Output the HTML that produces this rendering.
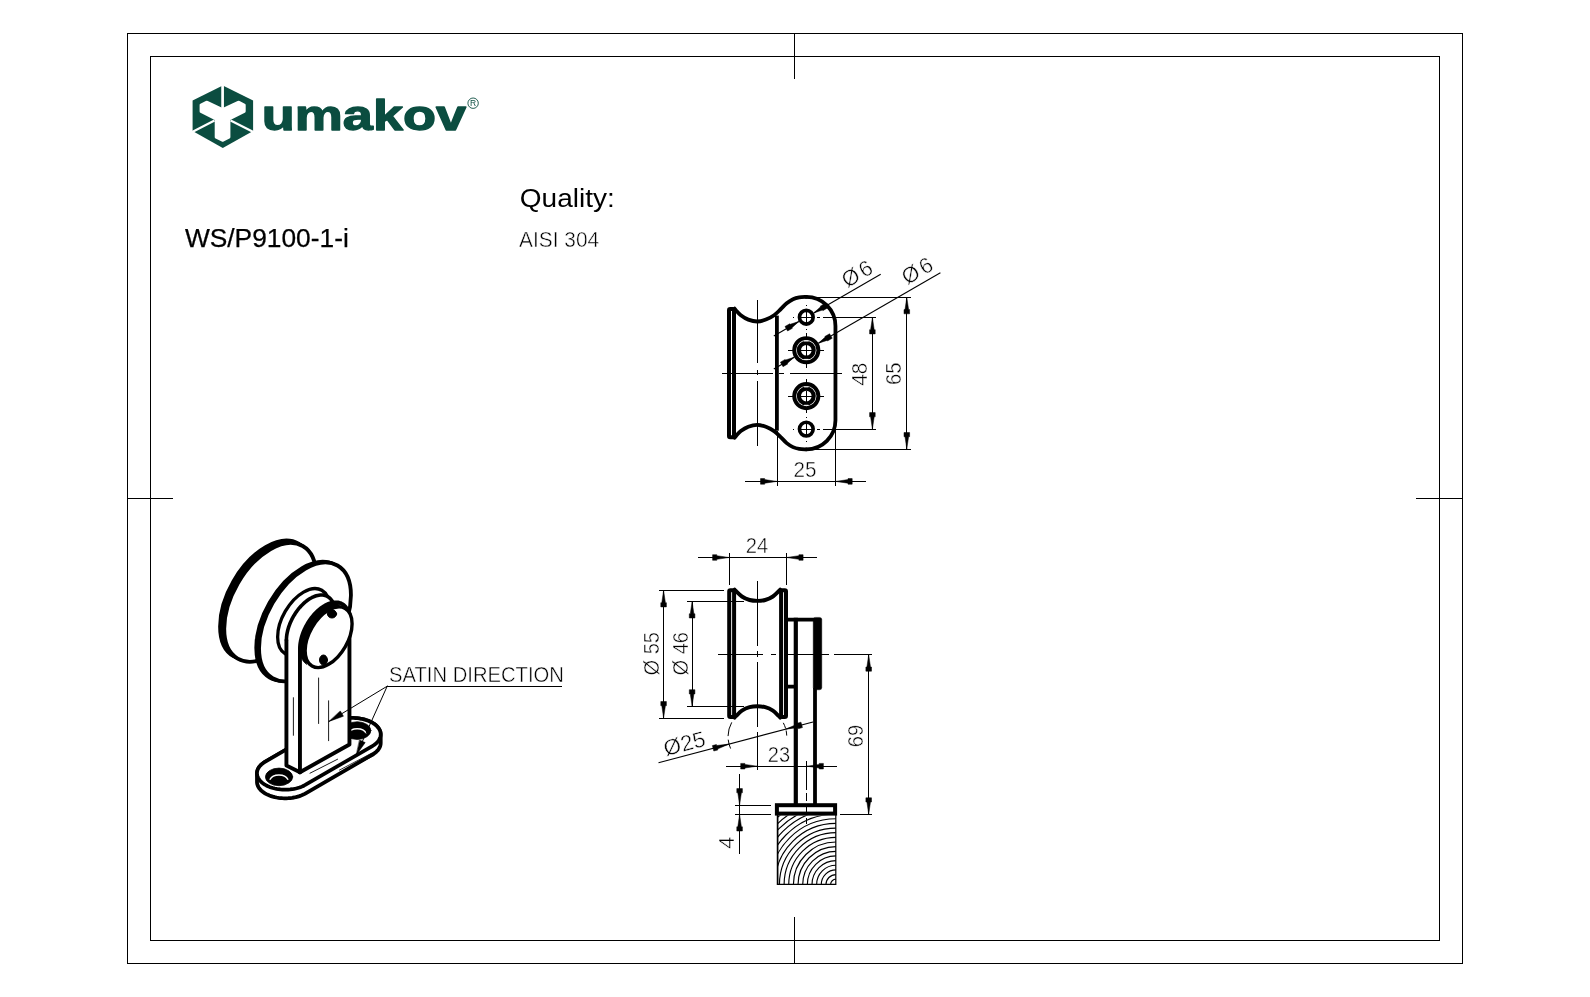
<!DOCTYPE html>
<html lang="en">
<head>
<meta charset="utf-8">
<title>umakov WS/P9100-1-i</title>
<style>
html,body{margin:0;padding:0;background:#fff;}
body{width:1590px;height:997px;overflow:hidden;}
svg{display:block;will-change:transform;}
svg line,svg path,svg circle,svg ellipse,svg rect,svg polyline{fill:none;stroke:#000;}
text{font-family:"Liberation Sans",Arial,Helvetica,sans-serif;fill:#000;stroke:none;}
text.t{stroke:#fff;stroke-width:.46px;}
text.m{stroke:#fff;stroke-width:.25px;}
text.b{stroke:none;}
text.h{stroke:#000;stroke-width:.25px;}
.ar{fill:#000;stroke:#000;stroke-width:.5;stroke-linejoin:miter;}
.k{stroke-linecap:round;stroke-linejoin:round;}
svg .wf{fill:#fff;}
svg .bf{fill:#000;}
svg .g{fill:#0b4d40;stroke:none;}
svg .w{stroke:#fff;}
</style>
</head>
<body>
<svg width="1590" height="997" viewBox="0 0 1590 997">
<g id="frame">
<rect x="127.5" y="33.5" width="1335" height="930" stroke-width="1.2" shape-rendering="crispEdges"/>
<rect x="150.5" y="56.5" width="1289" height="884" stroke-width="1.2" shape-rendering="crispEdges"/>
<path d="M794.5,33.5V78.8M794.5,916.9V963.5" stroke-width="1.2" shape-rendering="crispEdges"/>
<path d="M127.5,498.5H172.9M1416,498.5H1462.5" stroke-width="1.2" shape-rendering="crispEdges"/>
</g>
<g id="logo">
<polygon class="g" points="222.8,85.6 253.1,100.4 253.1,131 222.8,148.1 192.6,131 192.6,100.4" stroke-linejoin="round"/>
<path d="M199.6,105.2 Q199.4,104.3 200.4,103.8 L205.8,100.9 Q206.8,100.4 207.8,100.9 L222.6,108.1 L237.6,100.9 Q238.6,100.4 239.6,100.9 L244.8,103.8 Q245.8,104.3 245.7,105.2 L245.7,111.2 Q245.7,112.2 244.8,112.7 L230.4,119.9 L230.4,136.9 Q230.4,137.9 229.5,138.4 L223.6,141.5 Q222.7,142 221.8,141.5 L215.6,138.4 Q214.7,137.9 214.7,136.9 L214.7,119.9 L200.4,112.7 Q199.5,112.2 199.6,111.2 Z" style="fill:#fff;stroke:none"/>
<path d="M222.6,84 V110" stroke-width="2.7" style="stroke:#fff"/>
<path d="M214.5,120.5 L192.2,131.9 M230.6,120.5 L253.4,131.9" stroke-width="2.2" style="stroke:#fff"/>
<text x="0" y="0" font-size="43" font-weight="bold" transform="translate(261.8 130.3) scale(1.257 0.985)" style="fill:#0b4d40;stroke:#0b4d40;stroke-width:1.3px;stroke-linejoin:round">umakov</text>
<circle cx="473.1" cy="103.2" r="5.2" style="stroke:#0b4d40" stroke-width=".9"/>
<text x="473.1" y="106.3" font-size="8.5" text-anchor="middle" style="fill:#0b4d40">R</text>
</g>
<g id="hdr">
<text class="h" x="184.9" y="246.7" font-size="25.4" text-anchor="start" textLength="163.9" lengthAdjust="spacingAndGlyphs">WS/P9100-1-i</text>
<text class="b" x="519.8" y="206.8" font-size="26" text-anchor="start" textLength="95" lengthAdjust="spacingAndGlyphs">Quality:</text>
<text class="t" x="519.1" y="246.9" font-size="22" text-anchor="start" textLength="80" lengthAdjust="spacingAndGlyphs">AISI 304</text>
</g>
<g id="topview">
<text class="t" x="866.6" y="374.2" font-size="22" text-anchor="middle" transform="rotate(-90 866.6 374.2)" textLength="23" lengthAdjust="spacingAndGlyphs">48</text>
<text class="t" x="901.3" y="373.7" font-size="22" text-anchor="middle" transform="rotate(-90 901.3 373.7)" textLength="22.5" lengthAdjust="spacingAndGlyphs">65</text>
<text class="t" x="805" y="477" font-size="22" text-anchor="middle" textLength="23" lengthAdjust="spacingAndGlyphs">25</text>
<text class="t" x="846.9" y="288.2" font-size="22" text-anchor="start" transform="rotate(-30 846.9 288.2)" letter-spacing="2.6">Ø6</text>
<text class="t" x="907.1" y="285.2" font-size="22" text-anchor="start" transform="rotate(-30 907.1 285.2)" letter-spacing="2.6">Ø6</text>
<path d="M722,373.3H772.7M779,373.3H784M790.2,373.3H841.9" stroke-width="1.15" shape-rendering="crispEdges"/>
<path d="M757.6,300V363.2M757.6,370.3V375M757.6,381V445.7" stroke-width="1.15" shape-rendering="crispEdges"/>
<path d="M806.3,304.6V305.8M806.3,311.5V322.5M806.3,328.6V329.8M806.3,333V338M806.3,344.5V356M806.3,362V367.7M806.3,378.5V384M806.3,390.5V402M806.3,408V413M806.3,416.6V417.8M806.3,424V435M806.3,440.8V442" stroke-width="1" shape-rendering="crispEdges"/>
<path d="M792.6,317.2H793.8M800.8,317.2H811.8M816.8,317.2H820" stroke-width="1" shape-rendering="crispEdges"/>
<path d="M792.6,429.1H793.8M800.8,429.1H811.8M816.8,429.1H820" stroke-width="1" shape-rendering="crispEdges"/>
<path d="M788.2,350.2H793M800.5,350.2H812M819.5,350.2H823.8" stroke-width="1" shape-rendering="crispEdges"/>
<path d="M788.2,396.1H793M800.5,396.1H812M819.5,396.1H823.8" stroke-width="1" shape-rendering="crispEdges"/>
<path d="M822.8,317.2H875.7" stroke-width="1.15" shape-rendering="crispEdges"/>
<path d="M822.8,429.3H875.5" stroke-width="1.15" shape-rendering="crispEdges"/>
<path d="M872.4,317.2V429.3" stroke-width="1.15" shape-rendering="crispEdges"/>
<polygon class="ar" points="872.4,317.4 870.6,329.7 869.6,329.7 869.6,333.9 875.2,333.9 875.2,329.7 874.2,329.7"/>
<polygon class="ar" points="872.4,429.1 874.2,416.8 875.2,416.8 875.2,412.6 869.6,412.6 869.6,416.8 870.6,416.8"/>
<path d="M806,297.1H910.8" stroke-width="1.15" shape-rendering="crispEdges"/>
<path d="M806,449.2H910.8" stroke-width="1.15" shape-rendering="crispEdges"/>
<path d="M906.8,297.1V449.2" stroke-width="1.15" shape-rendering="crispEdges"/>
<polygon class="ar" points="906.8,297.3 905,309.6 904,309.6 904,313.8 909.6,313.8 909.6,309.6 908.6,309.6"/>
<polygon class="ar" points="906.8,449 908.6,436.7 909.6,436.7 909.6,432.5 904,432.5 904,436.7 905,436.7"/>
<path d="M777.2,431V485.6" stroke-width="1.15" shape-rendering="crispEdges"/>
<path d="M835.5,425V485.6" stroke-width="1.15" shape-rendering="crispEdges"/>
<path d="M745,481.4H865.7" stroke-width="1.15" shape-rendering="crispEdges"/>
<polygon class="ar" points="777,481.4 764.7,479.6 764.7,478.6 760.5,478.6 760.5,484.2 764.7,484.2 764.7,483.2"/>
<polygon class="ar" points="835.7,481.4 848,483.2 848,484.2 852.2,484.2 852.2,478.6 848,478.6 848,479.6"/>
<line x1="773.8" y1="335.96" x2="798.85" y2="321.5" stroke-width="1.1"/>
<line x1="813.75" y1="312.9" x2="880.7" y2="274.25" stroke-width="1.1"/>
<polygon class="ar" points="798.85,321.5 790.11,324.35 789.76,323.75 784.99,326.5 787.59,331 792.36,328.25 792.01,327.65"/>
<polygon class="ar" points="813.75,312.9 822.49,310.05 822.84,310.65 827.61,307.9 825.01,303.4 820.24,306.15 820.59,306.75"/>
<line x1="773.8" y1="368.96" x2="794.26" y2="357.15" stroke-width="1.1"/>
<line x1="818.34" y1="343.25" x2="940.4" y2="272.78" stroke-width="1.1"/>
<polygon class="ar" points="794.26,357.15 785.52,360 785.17,359.4 780.4,362.15 783,366.65 787.77,363.9 787.42,363.3"/>
<polygon class="ar" points="818.34,343.25 827.08,340.4 827.43,341 832.2,338.25 829.6,333.75 824.83,336.5 825.18,337.1"/>
<rect x="729" y="309" width="5" height="128.3" rx="1.2" stroke-width="4"/>
<path class="k" d="M734.6,308.6C734.82,308.87 734.87,309.1 735.9,310.2C736.93,311.3 738.73,313.63 740.8,315.2C742.87,316.77 745.53,318.55 748.3,319.6C751.07,320.65 754.37,321.55 757.4,321.5C760.43,321.45 763.72,320.35 766.5,319.3C769.28,318.25 771.78,316.83 774.1,315.2C776.42,313.57 778.3,311.5 780.4,309.5C782.5,307.5 784.6,304.92 786.7,303.2C788.8,301.48 790.92,300.17 793,299.2C795.08,298.23 796.98,297.78 799.2,297.4C801.42,297.02 805.12,296.98 806.3,296.9" stroke-width="3.8"/>
<path class="k" d="M734.6,437.7C734.82,437.43 734.87,437.2 735.9,436.1C736.93,435 738.73,432.67 740.8,431.1C742.87,429.53 745.53,427.75 748.3,426.7C751.07,425.65 754.37,424.75 757.4,424.8C760.43,424.85 763.72,425.95 766.5,427C769.28,428.05 771.78,429.47 774.1,431.1C776.42,432.73 778.3,434.8 780.4,436.8C782.5,438.8 784.6,441.38 786.7,443.1C788.8,444.82 790.92,446.13 793,447.1C795.08,448.07 796.98,448.52 799.2,448.9C801.42,449.28 805.12,449.32 806.3,449.4" stroke-width="3.8"/>
<path class="k" d="M806.3,296.9 A29.15,29.15 0 0 1 835.45,326.05 V420.25 A29.15,29.15 0 0 1 806.3,449.4" stroke-width="3.8"/>
<line x1="776.9" y1="315.6" x2="776.9" y2="430.7" stroke-width="3.8"/>
<circle cx="806.3" cy="317.2" r="6.85" stroke-width="3.65"/>
<circle cx="806.3" cy="429.1" r="6.85" stroke-width="3.65"/>
<circle cx="806.3" cy="350.2" r="12.1" stroke-width="3.9"/>
<circle cx="806.3" cy="350.2" r="7.4" stroke-width="4.2"/>
<path d="M804.1,341h4.4M804.1,359.4h4.4" stroke-width="1" style="stroke:#fff"/>
<circle cx="806.3" cy="396.1" r="12.1" stroke-width="3.9"/>
<circle cx="806.3" cy="396.1" r="7.4" stroke-width="4.2"/>
<path d="M804.1,386.9h4.4M804.1,405.3h4.4" stroke-width="1" style="stroke:#fff"/>
</g>
<g id="frontview">
<text class="t" x="757" y="552.6" font-size="22" text-anchor="middle" textLength="22.5" lengthAdjust="spacingAndGlyphs">24</text>
<text class="t" x="659" y="653.7" font-size="22" text-anchor="middle" transform="rotate(-90 659 653.7)" textLength="43.4" lengthAdjust="spacingAndGlyphs">Ø 55</text>
<text class="t" x="688" y="653.7" font-size="22" text-anchor="middle" transform="rotate(-90 688 653.7)" textLength="43.4" lengthAdjust="spacingAndGlyphs">Ø 46</text>
<text class="t" x="665.8" y="756.3" font-size="22" text-anchor="start" transform="rotate(-14.8 665.8 756.3)" textLength="42.5" lengthAdjust="spacingAndGlyphs">Ø25</text>
<text class="t" x="779" y="761.5" font-size="22" text-anchor="middle" textLength="22.3" lengthAdjust="spacingAndGlyphs">23</text>
<text class="t" x="733.6" y="842.7" font-size="22" text-anchor="middle" transform="rotate(-90 733.6 842.7)">4</text>
<text class="t" x="862.8" y="736" font-size="22" text-anchor="middle" transform="rotate(-90 862.8 736)" textLength="22.5" lengthAdjust="spacingAndGlyphs">69</text>
<path d="M718.2,654.5H763.4M770.6,654.5H776.1M783.8,654.5H828.5M834.2,654.5H872.3" stroke-width="1.15" shape-rendering="crispEdges"/>
<path d="M757.4,581.1V645.8M757.4,650.5V657M757.4,661.5V726.7M757.4,731.7V769.7" stroke-width="1.15" shape-rendering="crispEdges"/>
<path d="M806.7,760.6V790M806.7,793V801M806.7,803.5V813.4M806.7,818V824.2" stroke-width="1" shape-rendering="crispEdges"/>
<path d="M729.3,553.3V584.9" stroke-width="1.15" shape-rendering="crispEdges"/>
<path d="M786.4,553.3V584.9" stroke-width="1.15" shape-rendering="crispEdges"/>
<path d="M698,557.5H817" stroke-width="1.15" shape-rendering="crispEdges"/>
<polygon class="ar" points="729.1,557.5 716.8,555.7 716.8,554.7 712.6,554.7 712.6,560.3 716.8,560.3 716.8,559.3"/>
<polygon class="ar" points="786.6,557.5 798.9,559.3 798.9,560.3 803.1,560.3 803.1,554.7 798.9,554.7 798.9,555.7"/>
<path d="M659,590.2H723.7" stroke-width="1.15" shape-rendering="crispEdges"/>
<path d="M659,718.2H723.8" stroke-width="1.15" shape-rendering="crispEdges"/>
<path d="M663.6,590.2V718.2" stroke-width="1.15" shape-rendering="crispEdges"/>
<polygon class="ar" points="663.6,590.4 661.8,602.7 660.8,602.7 660.8,606.9 666.4,606.9 666.4,602.7 665.4,602.7"/>
<polygon class="ar" points="663.6,718 665.4,705.7 666.4,705.7 666.4,701.5 660.8,701.5 660.8,705.7 661.8,705.7"/>
<path d="M686.9,601.3H744" stroke-width="1.15" shape-rendering="crispEdges"/>
<path d="M687.2,706.4H744" stroke-width="1.15" shape-rendering="crispEdges"/>
<path d="M692.1,601.3V706.4" stroke-width="1.15" shape-rendering="crispEdges"/>
<polygon class="ar" points="692.1,601.5 690.3,613.8 689.3,613.8 689.3,618 694.9,618 694.9,613.8 693.9,613.8"/>
<polygon class="ar" points="692.1,706.2 693.9,693.9 694.9,693.9 694.9,689.7 689.3,689.7 689.3,693.9 690.3,693.9"/>
<path d="M839.5,814.5H872.3" stroke-width="1.15" shape-rendering="crispEdges"/>
<path d="M868.7,654.5V814.5" stroke-width="1.15" shape-rendering="crispEdges"/>
<polygon class="ar" points="868.7,654.7 866.9,667 865.9,667 865.9,671.2 871.5,671.2 871.5,667 870.5,667"/>
<polygon class="ar" points="868.7,814.3 870.5,802 871.5,802 871.5,797.8 865.9,797.8 865.9,802 866.9,802"/>
<path d="M726.2,766.2H837" stroke-width="1.15" shape-rendering="crispEdges"/>
<polygon class="ar" points="757.2,766.2 744.9,764.4 744.9,763.4 740.7,763.4 740.7,769 744.9,769 744.9,768"/>
<polygon class="ar" points="806.9,766.2 819.2,768 819.2,769 823.4,769 823.4,763.4 819.2,763.4 819.2,764.4"/>
<path d="M734.5,805.3H771.4" stroke-width="1.15" shape-rendering="crispEdges"/>
<path d="M734.5,814.3H771.4" stroke-width="1.15" shape-rendering="crispEdges"/>
<path d="M739.6,774.2V853.6" stroke-width="1.15" shape-rendering="crispEdges"/>
<polygon class="ar" points="739.6,805.1 741.4,792.8 742.4,792.8 742.4,788.6 736.8,788.6 736.8,792.8 737.8,792.8"/>
<polygon class="ar" points="739.6,814.5 737.8,826.8 736.8,826.8 736.8,831 742.4,831 742.4,826.8 741.4,826.8"/>
<line x1="658.5" y1="762.73" x2="813" y2="721.91" stroke-width="1.1"/>
<polygon class="ar" points="729.02,744.1 716.67,745.5 716.42,744.53 712.36,745.61 713.79,751.02 717.85,749.95 717.59,748.98"/>
<polygon class="ar" points="785.78,729.1 798.13,727.7 798.38,728.67 802.44,727.59 801.01,722.18 796.95,723.25 797.21,724.22"/>
<path d="M730.59,748.54A29.35,29.35 0 0 1 728.21,739.67" stroke-width="1"/>
<path d="M728.05,736.09A29.35,29.35 0 0 1 731.73,722.37" stroke-width="1"/>
<path d="M783.31,722.82A29.35,29.35 0 0 1 785.61,728.51" stroke-width="1"/>
<path d="M786.11,730.5A29.35,29.35 0 0 1 786.73,735.58" stroke-width="1"/>
<rect x="729.2" y="590.2" width="4.9" height="126.8" rx="1.2" stroke-width="4"/>
<rect x="781.1" y="590.2" width="4.9" height="126.8" rx="1.2" stroke-width="4"/>
<path class="k" d="M734.6,589.6C734.82,589.83 734.68,589.85 735.9,591C737.12,592.15 739.62,595 741.9,596.5C744.18,598 747.02,599.27 749.6,600C752.18,600.73 754.8,600.9 757.4,600.9C760,600.9 762.62,600.73 765.2,600C767.78,599.27 770.62,598 772.9,596.5C775.18,595 777.68,592.15 778.9,591C780.12,589.85 779.98,589.83 780.2,589.6" stroke-width="3.9"/>
<path class="k" d="M734.6,717.6C734.82,717.37 734.68,717.35 735.9,716.2C737.12,715.05 739.62,712.2 741.9,710.7C744.18,709.2 747.02,707.93 749.6,707.2C752.18,706.47 754.8,706.3 757.4,706.3C760,706.3 762.62,706.47 765.2,707.2C767.78,707.93 770.62,709.2 772.9,710.7C775.18,712.2 777.68,715.05 778.9,716.2C780.12,717.35 779.98,717.37 780.2,717.6" stroke-width="3.9"/>
<path d="M788,619.6H815 M788,686.6H795.5" stroke-width="3.8"/>
<line x1="795.8" y1="617.7" x2="795.8" y2="805" stroke-width="4.2"/>
<line x1="815" y1="688" x2="815" y2="805" stroke-width="3.8"/>
<rect class="bf" x="813.2" y="617.4" width="8.6" height="72.4" rx="2.2" stroke-width=".4"/>
<rect x="776.9" y="805.2" width="58.2" height="8.4" stroke-width="4"/>
<clipPath id="wood"><rect x="777.2" y="815.4" width="58.6" height="69"/></clipPath>
<g clip-path="url(#wood)">
<circle cx="836" cy="884.6" r="5.4" stroke-width="1.15"/>
<circle cx="836" cy="884.6" r="10.05" stroke-width="1.15"/>
<circle cx="836" cy="884.6" r="14.7" stroke-width="1.15"/>
<circle cx="836" cy="884.6" r="19.35" stroke-width="1.15"/>
<circle cx="836" cy="884.6" r="24" stroke-width="1.15"/>
<circle cx="836" cy="884.6" r="28.65" stroke-width="1.15"/>
<circle cx="836" cy="884.6" r="33.3" stroke-width="1.15"/>
<circle cx="836" cy="884.6" r="37.95" stroke-width="1.15"/>
<circle cx="836" cy="884.6" r="42.6" stroke-width="1.15"/>
<circle cx="836" cy="884.6" r="47.25" stroke-width="1.15"/>
<circle cx="836" cy="884.6" r="51.9" stroke-width="1.15"/>
<circle cx="836" cy="884.6" r="56.55" stroke-width="1.15"/>
<circle cx="836" cy="884.6" r="61.2" stroke-width="1.15"/>
<circle cx="836" cy="884.6" r="65.85" stroke-width="1.15"/>
<circle cx="836" cy="884.6" r="70.5" stroke-width="1.15"/>
<circle cx="836" cy="884.6" r="75.15" stroke-width="1.15"/>
<circle cx="836" cy="884.6" r="79.8" stroke-width="1.15"/>
<circle cx="836" cy="884.6" r="84.45" stroke-width="1.15"/>
<circle cx="836" cy="884.6" r="89.1" stroke-width="1.15"/>
<circle cx="836" cy="884.6" r="93.75" stroke-width="1.15"/>
<circle cx="836" cy="884.6" r="98.4" stroke-width="1.15"/>
<circle cx="836" cy="884.6" r="103.05" stroke-width="1.15"/>
</g>
<path d="M835.8,815V884.4H777.2" stroke-width="1.2"/>
<line x1="777.6" y1="815" x2="777.6" y2="885" stroke-width="1.7"/>
</g>
<g id="iso" class="k">
<text class="t" x="389" y="682.2" font-size="21.2" text-anchor="start" textLength="174.9" lengthAdjust="spacingAndGlyphs">SATIN DIRECTION</text>
<ellipse cx="266" cy="599.9" rx="65" ry="37.5" transform="rotate(-60 266 599.9)" stroke-width="3.8" class="wf"/>
<ellipse cx="268.1" cy="601.1" rx="65" ry="37.5" transform="rotate(-60 268.1 601.1)" stroke-width="3.2"/>
<ellipse cx="270.2" cy="602.3" rx="65" ry="37.5" transform="rotate(-60 270.2 602.3)" stroke-width="3.8" class="wf"/>
<ellipse cx="302.2" cy="621.2" rx="65" ry="37.5" transform="rotate(-60 302.2 621.2)" stroke-width="3.8" class="wf"/>
<ellipse cx="303.6" cy="621.5" rx="65" ry="37.5" transform="rotate(-60 303.6 621.5)" stroke-width="3.2"/>
<ellipse cx="305" cy="621.8" rx="65" ry="37.5" transform="rotate(-60 305 621.8)" stroke-width="3.8" class="wf"/>
<ellipse cx="303.5" cy="622" rx="36.6" ry="21.1" transform="rotate(-60 303.5 622)" stroke-width="3.3"/>
<path class="wf" d="M257,773.3L257.07,772.16L257.27,771.02L257.62,769.89L258.1,768.78L258.71,767.69L259.45,766.63L260.31,765.6L261.3,764.61L262.4,763.66L263.62,762.76L264.94,761.91L332.04,723.01L333.46,722.21L334.98,721.48L336.57,720.8L338.25,720.2L339.99,719.66L341.8,719.19L343.65,718.8L345.55,718.49L347.49,718.25L349.44,718.09L351.41,718.01L353.39,718.01L355.36,718.09L357.31,718.25L359.25,718.49L361.14,718.8L363,719.19L364.81,719.66L366.55,720.2L368.23,720.8L369.82,721.48L371.34,722.21L372.76,723.01L374.08,723.86L375.3,724.76L376.4,725.71L377.39,726.7L378.25,727.73L378.99,728.79L379.6,729.88L380.08,730.99L380.43,732.12L380.63,733.26L380.7,734.4L380.7,743L380.63,744.14L380.43,745.28L380.08,746.41L379.6,747.52L378.99,748.61L378.25,749.67L377.39,750.7L376.4,751.69L375.3,752.64L374.08,753.54L372.76,754.39L305.66,793.29L304.24,794.09L302.72,794.82L301.12,795.5L299.45,796.1L297.71,796.64L295.9,797.11L294.05,797.5L292.15,797.81L290.21,798.05L288.26,798.21L286.29,798.29L284.31,798.29L282.34,798.21L280.39,798.05L278.45,797.81L276.56,797.5L274.7,797.11L272.89,796.64L271.15,796.1L269.48,795.5L267.88,794.82L266.36,794.09L264.94,793.29L263.62,792.44L262.4,791.54L261.3,790.59L260.31,789.6L259.45,788.57L258.71,787.51L258.1,786.42L257.62,785.31L257.27,784.18L257.07,783.04L257,781.9Z" stroke-width="3.8"/>
<path class="wf" d="M257,773.3L257.07,772.16L257.27,771.02L257.62,769.89L258.1,768.78L258.71,767.69L259.45,766.63L260.31,765.6L261.3,764.61L262.4,763.66L263.62,762.76L264.94,761.91L332.04,723.01L333.46,722.21L334.98,721.48L336.57,720.8L338.25,720.2L339.99,719.66L341.8,719.19L343.65,718.8L345.55,718.49L347.49,718.25L349.44,718.09L351.41,718.01L353.39,718.01L355.36,718.09L357.31,718.25L359.25,718.49L361.14,718.8L363,719.19L364.81,719.66L366.55,720.2L368.23,720.8L369.82,721.48L371.34,722.21L372.76,723.01L374.08,723.86L375.3,724.76L376.4,725.71L377.39,726.7L378.25,727.73L378.99,728.79L379.6,729.88L380.08,730.99L380.43,732.12L380.63,733.26L380.7,734.4L380.63,735.54L380.43,736.68L380.08,737.81L379.6,738.92L378.99,740.01L378.25,741.07L377.39,742.1L376.4,743.09L375.3,744.04L374.08,744.94L372.76,745.79L305.66,784.69L304.24,785.49L302.72,786.22L301.12,786.9L299.45,787.5L297.71,788.04L295.9,788.51L294.05,788.9L292.15,789.21L290.21,789.45L288.26,789.61L286.29,789.69L284.31,789.69L282.34,789.61L280.39,789.45L278.45,789.21L276.56,788.9L274.7,788.51L272.89,788.04L271.15,787.5L269.48,786.9L267.88,786.22L266.36,785.49L264.94,784.69L263.62,783.84L262.4,782.94L261.3,781.99L260.31,781L259.45,779.97L258.71,778.91L258.1,777.82L257.62,776.71L257.27,775.58L257.07,774.44Z" stroke-width="3.7"/>
<line x1="310" y1="773.2" x2="337.6" y2="759.2" stroke-width="0.9"/>
<line x1="339.4" y1="770.1" x2="372.4" y2="752.8" stroke-width="0.8"/>
<line x1="342" y1="772.4" x2="374" y2="755.6" stroke-width="0.8"/>
<ellipse class="bf" cx="279.05" cy="776.9" rx="13.6" ry="8.8" stroke-width=".8"/>
<path d="M270.15,779.3 A9.2,6 0 0 1 287.75,779.3" stroke-width="1.5" style="stroke:#fff"/>
<ellipse class="bf" cx="357.3" cy="730.6" rx="13.6" ry="8.8" stroke-width=".8"/>
<path d="M348.4,733 A9.2,6 0 0 1 366,733" stroke-width="1.5" style="stroke:#fff"/>
<path class="wf" d="M286.42,640.16L286.49,637.93L286.71,635.62L287.08,633.26L287.6,630.85L288.26,628.41L289.05,625.96L289.98,623.51L291.03,621.08L292.21,618.68L293.5,616.33L294.89,614.03L296.38,611.81L297.96,609.69L299.62,607.66L301.34,605.74L303.13,603.96L304.95,602.31L306.82,600.8L308.7,599.46L310.6,598.28L312.5,597.27L314.38,596.43L316.24,595.79L318.07,595.33L319.85,595.06L321.58,594.98L323.24,595.1L324.81,595.4L326.31,595.9L327.7,596.58L328.99,597.45L330.16,598.49L331.22,599.71L332.15,601.08L332.94,602.61L333.6,604.29L334.12,606.11L334.49,608.04L334.71,610.09L334.78,612.24L299.95,648.59L299.95,772.2L286.42,765.4Z" stroke="none" style="stroke:none"/>
<path d="M286.42,640.16L286.46,638.51L286.58,636.82L286.78,635.09L287.07,633.33L287.44,631.55L287.88,629.75L288.4,627.93L289,626.11L289.67,624.3L290.41,622.48L291.22,620.68L292.09,618.9L293.03,617.15L294.03,615.42L295.09,613.73L296.19,612.09L297.35,610.49L298.55,608.94L299.79,607.46L301.07,606.03L302.38,604.68L303.72,603.4L305.08,602.19L306.47,601.07L307.86,600.04L309.27,599.09L310.67,598.23L312.08,597.47L313.49,596.81L314.88,596.24L316.26,595.78L317.62,595.42L318.96,595.17L320.27,595.02L321.54,594.98L322.78,595.04L323.98,595.21L325.13,595.49L326.23,595.87L327.28,596.35L328.27,596.93L329.2,597.62L330.07,598.4L330.87,599.27L331.61,600.24L332.27,601.29L332.86,602.43L333.37,603.65L333.81,604.95L334.16,606.31" stroke-width="3.6"/>
<path d="M286.42,640.16V765.4L299.95,772.2" stroke-width="3.9"/>
<path class="wf" d="M299.95,648.59L300,646.77L300.15,644.89L300.39,642.98L300.73,641.03L301.16,639.06L301.69,637.06L302.31,635.06L303.01,633.05L303.8,631.05L304.68,629.06L305.63,627.09L306.66,625.15L307.76,623.25L308.92,621.39L310.15,619.58L311.44,617.83L312.78,616.14L314.16,614.53L315.59,612.99L317.05,611.54L318.54,610.17L320.06,608.91L321.6,607.74L323.14,606.68L324.7,605.72L326.25,604.88L327.8,604.16L329.34,603.55L330.85,603.07L332.35,602.71L333.81,602.47L335.24,602.36L336.62,602.37L337.96,602.51L339.25,602.78L340.48,603.17L341.64,603.69L342.74,604.32L343.77,605.07L344.72,605.94L345.6,606.92L346.39,608.01L347.09,609.2L347.71,610.5L348.24,611.88L348.67,613.35L349.01,614.91L349.25,616.54L349.4,618.25L349.45,620.01L349.45,744.5L299.95,772.2Z" style="stroke:none"/>
<path d="M299.95,772.2L299.95,648.59L299.95,648.59L299.99,646.87L300.12,645.1L300.34,643.3L300.64,641.47L301.03,639.61L301.5,637.73L302.05,635.84L302.69,633.95L303.4,632.05L304.18,630.16L305.04,628.29L305.96,626.44L306.96,624.62L308.01,622.83L309.12,621.08L310.29,619.38L311.51,617.73L312.78,616.14L314.08,614.61L315.43,613.16L316.8,611.77L318.21,610.47L319.64,609.25L321.08,608.12L322.54,607.08L324.01,606.13L325.48,605.29L326.94,604.54L328.4,603.91L329.84,603.38L331.27,602.95L332.68,602.64L334.05,602.44L335.39,602.35L336.7,602.38L337.96,602.51L339.18,602.76L340.34,603.12L341.45,603.59L342.5,604.17L343.49,604.85L344.41,605.64L345.27,606.53L346.05,607.51L346.75,608.6L347.38,609.77L347.93,611.02L348.39,612.36L348.78,613.78L349.07,615.27" stroke-width="3.9"/>
<path d="M299.95,772.2L349.45,744.5V614.01" stroke-width="3.9"/>
<path d="M293.4,697.7V735.3" stroke-width="0.9" shape-rendering="crispEdges"/>
<path d="M318.6,678V723.5" stroke-width="0.9" shape-rendering="crispEdges"/>
<path d="M328.6,700.8V740.7" stroke-width="0.9" shape-rendering="crispEdges"/>
<path class="bf" d="M306.31,664.04L305.36,663.3L304.49,662.46L303.68,661.52L302.95,660.49L302.29,659.36L301.71,658.15L301.21,656.85L300.79,655.48L300.45,654.03L300.2,652.52L300.04,650.94L299.96,649.3L299.96,647.61L300.06,645.88L300.23,644.1L300.5,642.29L300.85,640.45L301.28,638.59L301.79,636.72L302.38,634.84L303.05,632.95L303.79,631.07L304.61,629.2L305.5,627.35L306.45,625.53L307.47,623.73L308.55,621.97L309.68,620.26L310.87,618.59L312.1,616.97L313.38,615.42L314.7,613.94L316.05,612.52L317.43,611.18L318.84,609.92L320.27,608.74L321.71,607.66L323.16,606.66L324.62,605.77L326.08,604.97L327.54,604.27L328.98,603.68L330.41,603.2L331.82,602.82L333.2,602.55L334.56,602.4L335.88,602.35L337.16,602.41L338.4,602.59L339.59,602.88Z" stroke-width="1"/>
<ellipse cx="328.6" cy="637.2" rx="33.2" ry="19.17" transform="rotate(-60 328.6 637.2)" stroke-width="3.4" class="wf"/>
<ellipse class="bf" cx="332.0" cy="613.9" rx="4.6" ry="4.1" stroke-width="1"/>
<ellipse class="bf" cx="323.5" cy="660.0" rx="4.0" ry="5.0" stroke-width="1"/>
<path d="M387.2,686.2H561.8" stroke-width="1.2" shape-rendering="crispEdges"/>
<line x1="387.2" y1="686.2" x2="329.1" y2="721.4" stroke-width="1"/>
<line x1="387.2" y1="686.2" x2="356.3" y2="755" stroke-width="1"/>
<polygon class="ar" points="329.1,721.4 343.4,716.25 343.4,716.25 343.48,716.19 340.37,711.06 340.29,711.11 340.29,711.11"/>
<polygon class="ar" points="356.3,755 365.14,742.64 365.14,742.64 365.18,742.55 359.71,740.09 359.67,740.18 359.67,740.18"/>
</g>
</svg>
</body>
</html>
